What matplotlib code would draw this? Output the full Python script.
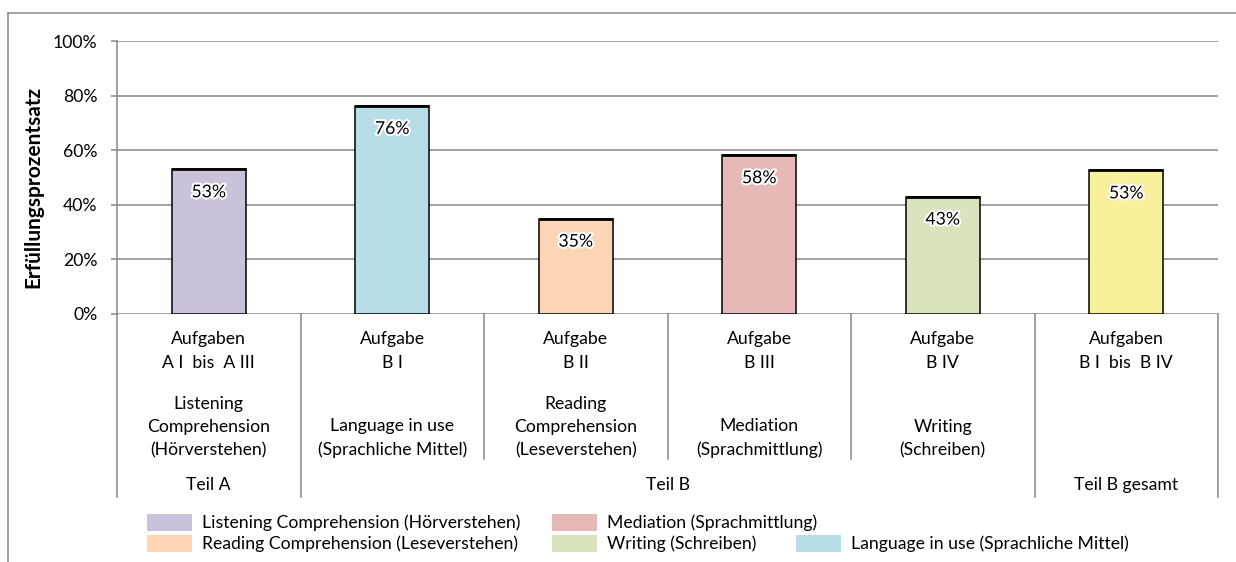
import numpy as np
import matplotlib
matplotlib.use("Agg")
import matplotlib.pyplot as plt
import matplotlib.transforms as mtransforms
from matplotlib.patches import Rectangle
from matplotlib.lines import Line2D
import matplotlib.patheffects as pe

plt.rcParams['font.family'] = ['Lato', 'DejaVu Sans']

# data
values = [53.0, 76.3, 34.9, 58.2, 43.0, 52.6]
colors = ['#CCC1DA', '#B7DEE8', '#FCD5B5', '#E6B9B8', '#D7E4BD', '#F9F09C']
top_labels = ['Aufgaben\nA I  bis  A III', 'Aufgabe\nB I', 'Aufgabe\nB II',
              'Aufgabe\nB III', 'Aufgabe\nB IV', 'Aufgaben\nB I  bis  B IV']
bottom_labels = ['Listening\nComprehension\n(Hörverstehen)',
                 'Language in use\n(Sprachliche Mittel)',
                 'Reading\nComprehension\n(Leseverstehen)',
                 'Mediation\n(Sprachmittlung)',
                 'Writing\n(Schreiben)',
                 '']
groups = ['Teil A', 'Teil B', 'Teil B gesamt']
group_spans = [(0, 0), (1, 4), (5, 5)]
legend_labels = ['Listening Comprehension (Hörverstehen)',
                 'Reading Comprehension (Leseverstehen)',
                 'Mediation (Sprachmittlung)',
                 'Writing (Schreiben)',
                 'Language in use (Sprachliche Mittel)']
legend_colors = ['#CCC1DA', '#FCD5B5', '#E6B9B8', '#D7E4BD', '#B7DEE8']
yticks = [0, 20, 40, 60, 80, 100]

W, H = 1236, 562
FS = 12.7
GRID = '#868686'


def fx(px):
    return px / W


def fy(py):
    return 1 - py / H


fig = plt.figure(figsize=(W / 100, H / 100), dpi=100)
ax = fig.add_axes([fx(117), fy(313.7), fx(1218) - fx(117), (313.7 - 41.3) / H])

x = np.arange(len(values))
bw = 0.403
ax.bar(x, values, width=bw, color=colors, edgecolor='black', linewidth=1.1, zorder=3)
ax.hlines(values, x - bw / 2, x + bw / 2, color='black', linewidth=2.0, zorder=4)
for xi, v in zip(x, values):
    ax.annotate(f"{v:.0f}%", (xi, v), xytext=(0, -23), textcoords='offset pixels',
                ha='center', va='center', fontsize=FS, zorder=5,
                path_effects=[pe.withStroke(linewidth=3, foreground='white')])

ax.set_xlim(-0.5, len(values) - 0.5)
ax.set_ylim(0, 100)
ax.set_yticks(yticks)
ax.set_yticklabels([f"{t}%" for t in yticks], fontsize=FS)
ax.set_xticks([])
ax.grid(axis='y', color=GRID, linewidth=1.1, zorder=0)
ax.tick_params(axis='y', length=4, width=1.1, color=GRID, pad=10)
for s in ['top', 'right', 'bottom']:
    ax.spines[s].set_visible(False)
ax.spines['left'].set_color(GRID)
ax.spines['left'].set_linewidth(1.1)

# multi-level category axis
tr = mtransforms.blended_transform_factory(ax.transData, fig.transFigure)
n = len(values)
group_edges = set([-0.5, n - 0.5] + [e + 0.5 for _, e in group_spans])
for b in np.arange(-0.5, n, 1.0):
    end = 497 if b in group_edges else 459
    ax.add_line(Line2D([b, b], [fy(314), fy(end)], transform=tr, color=GRID,
                       linewidth=1.1, clip_on=False))
for xi, t, b in zip(x, top_labels, bottom_labels):
    ax.text(xi, fy(351), t, transform=tr, ha='center', va='center',
            fontsize=FS, linespacing=1.55)
    if b:
        ax.text(xi, fy(458), b, transform=tr, ha='center', va='bottom',
                fontsize=FS, linespacing=1.55)
for g, (s, e) in zip(groups, group_spans):
    ax.text((s + e) / 2, fy(485), g, transform=tr, ha='center', va='center', fontsize=FS)

fig.text(fx(33), fy(187), 'Erfüllungsprozentsatz', rotation=90, ha='center',
         va='center', fontsize=15, fontweight='bold')

# legend
leg_pos = [(147, 522.5), (147, 543.5), (552, 522.5), (552, 543.5), (796, 543.5)]
for (lx, ly), lab, c in zip(leg_pos, legend_labels, legend_colors):
    fig.add_artist(Rectangle((fx(lx), fy(ly + 8.5)), 45 / W, 17 / H,
                             transform=fig.transFigure, color=c, linewidth=0))
    fig.text(fx(lx + 55), fy(ly), lab, ha='left', va='center', fontsize=FS)

# outer border
fig.add_artist(Line2D([fx(8), fx(8)], [fy(13), 0], transform=fig.transFigure,
                      color=GRID, linewidth=1.1))
fig.add_artist(Line2D([fx(8), 1], [fy(13), fy(13)], transform=fig.transFigure,
                      color=GRID, linewidth=1.1))

fig.savefig('out.png', dpi=100)
